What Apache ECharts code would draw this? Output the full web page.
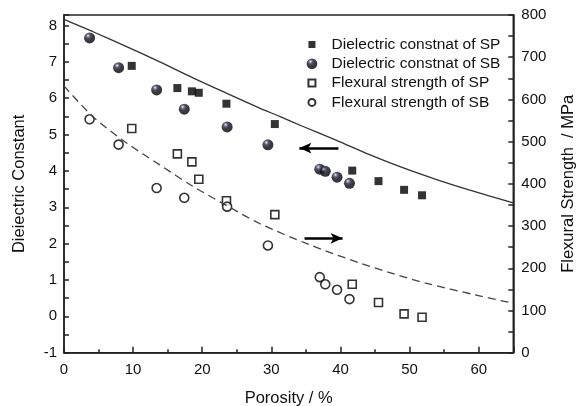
<!DOCTYPE html>
<html>
<head>
<meta charset="utf-8">
<script src="https://cdn.jsdelivr.net/npm/echarts@6/dist/echarts.min.js"></script>
<style>html,body{margin:0;padding:0;background:#fff}#chart{width:586px;height:406px}</style>
</head>
<body>
<div id="chart"></div>
<script>
// ---- data ----
const legendNames = ['Dielectric constnat of SP', 'Dielectric constnat of SB', 'Flexural strength of SP', 'Flexural strength of SB'];

const spPorosity = [9.8, 16.4, 18.5, 19.5, 23.5, 30.5, 41.7, 45.5, 49.2, 51.8];
const spDielectric = [6.89, 6.28, 6.19, 6.15, 5.85, 5.29, 4.01, 3.72, 3.48, 3.33];
const spStrength = [531, 471, 452, 411, 360, 327, 162, 119, 92, 84];

const sbPorosity = [3.7, 7.9, 13.4, 17.4, 23.6, 29.5, 37.0, 37.8, 39.5, 41.3];
const sbDielectric = [7.66, 6.84, 6.23, 5.70, 5.21, 4.72, 4.05, 3.99, 3.83, 3.66];
const sbStrength = [553, 493, 390, 367, 346, 254, 179, 162, 149, 127];

const fitPorosity = [0, 4.2, 9.05, 13.85, 18.66, 23.5, 28.3, 31.2, 34.5, 39.35, 44.2, 49.0, 53.8, 58.6, 65];
const fitDielectric = [8.17, 7.83, 7.42, 7.00, 6.56, 6.14, 5.73, 5.50, 5.23, 4.85, 4.45, 4.09, 3.77, 3.48, 3.12];

const fitStrengthPorosity = [0, 4.2, 9.05, 13.85, 18.66, 23.5, 28.3, 35.5, 42.7, 47.5, 52.3, 59.5, 65];
const fitStrength = [632, 559, 497, 445, 394, 349, 306, 256, 213, 188, 165, 137, 117];

const xTicks = [0, 10, 20, 30, 40, 50, 60];
const leftTicks = [-1, 0, 1, 2, 3, 4, 5, 6, 7, 8];
const rightTicks = [0, 100, 200, 300, 400, 500, 600, 700, 800];

const arrowLeft = { from: [39.7, 4.63], to: [34.05, 4.63] };
const arrowRight = { from: [34.8, 271], to: [40.3, 271] };

// ---- helpers ----
const zip = (xs, ys) => xs.map((x, i) => [x, ys[i]]);
const FONT = '"Liberation Sans", Arial, sans-serif';
const AX = '#222';
const TXT = '#111';

const ball = new echarts.graphic.RadialGradient(0.36, 0.3, 0.72, [
  { offset: 0, color: '#f4f4fa' },
  { offset: 0.1, color: '#9a9ab6' },
  { offset: 0.3, color: '#2a2a40' },
  { offset: 0.55, color: '#0b0b15' },
  { offset: 1, color: '#000000' }
]);

// legend icons (10.7px box, smaller shape centred inside)
const ICON_SQ = 'path://M0,0 M10.7,10.7 M1.85,1.85 L8.85,1.85 L8.85,8.85 L1.85,8.85 Z';
const ICON_CIRC = 'path://M0,0 M10.7,10.7 M1.85,5.35 A3.5,3.5,0,1,1,8.85,5.35 A3.5,3.5,0,1,1,1.85,5.35 Z';

const chart = echarts.init(document.getElementById('chart'), null, { renderer: 'canvas' });

const option = {
  animation: false,
  backgroundColor: '#fff',
  textStyle: { fontFamily: FONT },
  grid: {
    left: 64, right: 72.7, top: 15, bottom: 53.3,
    containLabel: false, outerBoundsMode: 'none',
    show: true, borderColor: AX, borderWidth: 1.5, backgroundColor: 'transparent'
  },
  legend: {
    orient: 'vertical',
    left: 300.6, top: 31.5,
    itemWidth: 10.7, itemHeight: 10.7, itemGap: 3.3,
    selectedMode: false,
    textStyle: { fontFamily: FONT, fontSize: 15.5, lineHeight: 16, color: TXT, padding: [0, 0, 0, 9.3] },
    data: [
      { name: legendNames[0], icon: ICON_SQ },
      { name: legendNames[1], icon: 'circle' },
      { name: legendNames[2], icon: ICON_SQ },
      { name: legendNames[3], icon: ICON_CIRC }
    ]
  },
  xAxis: [{
    type: 'value', min: 0, max: 65, interval: 10,
    name: 'Porosity / %', nameLocation: 'middle', nameGap: 37,
    nameTextStyle: { fontFamily: FONT, fontSize: 16.5, color: TXT },
    axisLine: { show: true, onZero: false, lineStyle: { color: AX, width: 1.5 } },
    axisTick: { show: true, inside: true, length: 6, lineStyle: { color: AX, width: 1.5 } },
    axisLabel: {
      margin: 10, fontFamily: FONT, fontSize: 15, color: TXT,
      formatter: v => (xTicks.indexOf(v) >= 0 ? String(v) : '')
    },
    splitLine: { show: false }
  }, {
    type: 'value', min: 0, max: 65, interval: 5, position: 'bottom',
    axisLine: { show: false, onZero: false },
    axisTick: { show: true, inside: true, length: 3.5, lineStyle: { color: AX, width: 1.5 } },
    axisLabel: { show: false },
    splitLine: { show: false }
  }],
  yAxis: [{
    type: 'value', min: -1, max: 8.29, interval: 0.5,
    name: 'Dieiectric Constant', nameLocation: 'middle', nameGap: 36,
    nameTextStyle: { fontFamily: FONT, fontSize: 16.5, color: TXT },
    axisLine: { show: true, onZero: false, lineStyle: { color: AX, width: 1.5 } },
    axisTick: { show: true, inside: true, length: 5, lineStyle: { color: AX, width: 1.5 } },
    axisLabel: {
      margin: 7, fontFamily: FONT, fontSize: 15, color: TXT,
      formatter: v => (leftTicks.indexOf(v) >= 0 ? String(v) : '')
    },
    splitLine: { show: false }
  }, {
    type: 'value', min: 0, max: 800, interval: 50, position: 'right',
    name: 'Flexural Strength  / MPa', nameLocation: 'middle', nameGap: 47,
    nameTextStyle: { fontFamily: FONT, fontSize: 16.5, color: TXT },
    axisLine: { show: true, onZero: false, lineStyle: { color: AX, width: 1.5 } },
    axisTick: { show: true, inside: true, length: 5, lineStyle: { color: AX, width: 1.5 } },
    axisLabel: {
      margin: 8, fontFamily: FONT, fontSize: 15, color: TXT,
      formatter: v => (rightTicks.indexOf(v) >= 0 ? String(v) : '')
    },
    splitLine: { show: false }
  }],
  series: [
    {
      type: 'line', xAxisIndex: 0, yAxisIndex: 0,
      data: zip(fitPorosity, fitDielectric),
      smooth: 0.3, showSymbol: false, silent: true,
      lineStyle: { color: '#333', width: 1.3, type: 'solid' },
      markLine: {
        silent: true, animation: false,
        label: { show: false },
        lineStyle: { color: '#000', width: 2.5, type: 'solid' },
        data: [[
          { coord: arrowLeft.from, symbol: 'none' },
          { coord: arrowLeft.to, symbol: 'arrow', symbolSize: [8, 12] }
        ]]
      }
    },
    {
      type: 'line', xAxisIndex: 0, yAxisIndex: 1,
      data: zip(fitStrengthPorosity, fitStrength),
      smooth: 0.3, showSymbol: false, silent: true,
      lineStyle: { color: '#444', width: 1.3, type: [8, 5] },
      markLine: {
        silent: true, animation: false,
        label: { show: false },
        lineStyle: { color: '#000', width: 2.5, type: 'solid' },
        data: [[
          { coord: arrowRight.from, symbol: 'none' },
          { coord: arrowRight.to, symbol: 'arrow', symbolSize: [8, 12] }
        ]]
      }
    },
    {
      name: legendNames[0], type: 'scatter', xAxisIndex: 0, yAxisIndex: 0,
      data: zip(spPorosity, spDielectric),
      symbol: 'rect', symbolSize: 8,
      itemStyle: { color: '#000' }
    },
    {
      name: legendNames[1], type: 'scatter', xAxisIndex: 0, yAxisIndex: 0,
      data: zip(sbPorosity, sbDielectric),
      symbol: 'circle', symbolSize: 11,
      itemStyle: { color: ball }
    },
    {
      name: legendNames[2], type: 'scatter', xAxisIndex: 0, yAxisIndex: 1,
      data: zip(spPorosity, spStrength),
      symbol: 'rect', symbolSize: 8,
      itemStyle: { color: '#fff', borderColor: '#000', borderWidth: 1.6 }
    },
    {
      name: legendNames[3], type: 'scatter', xAxisIndex: 0, yAxisIndex: 1,
      data: zip(sbPorosity, sbStrength),
      symbol: 'circle', symbolSize: 9,
      itemStyle: { color: '#fff', borderColor: '#000', borderWidth: 1.6 }
    }
  ]
};
chart.setOption(option);
</script>
</body>
</html>
